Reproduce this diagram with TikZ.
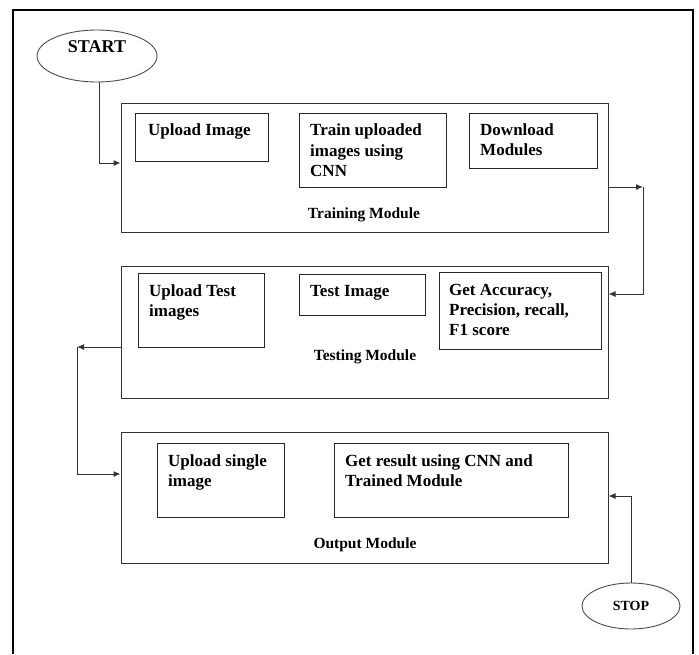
\documentclass[tikz,border=0pt]{standalone}
\usepackage{fontspec}
\setmainfont{Liberation Serif}
\usetikzlibrary{arrows.meta,shapes.geometric,calc}
\begin{document}
\begin{tikzpicture}[x=1pt,y=-1pt,
  modbox/.style={draw=black!80,line width=1pt,rectangle,inner sep=0pt},
  subbox/.style={draw=black!85,line width=1pt,rectangle,inner sep=0pt},
  boxtxt/.style={anchor=north west,inner sep=0pt,align=left,font=\bfseries\fontsize{17}{20.5}\selectfont},
  modlbl/.style={inner sep=0pt,font=\bfseries\fontsize{15.5}{18}\selectfont},
  term/.style={draw=black!70,line width=0.9pt,ellipse,inner sep=0pt},
  conn/.style={draw=black!80,line width=1pt},
  arr/.style={conn,-{Latex[length=7pt,width=6pt]}}]
\useasboundingbox (0,0) rectangle (699,654);
% outer frame
\draw[line width=2.4pt] (13,654) -- (13,10) -- (693,10) -- (693,654);
% start / stop
\node[term,minimum width=120pt,minimum height=52pt,text depth=19pt,font=\bfseries\fontsize{18}{20}\selectfont] (start) at (97,56) {START};
\node[term,minimum width=98pt,minimum height=46pt,font=\bfseries\fontsize{14}{16}\selectfont] (stop) at (631,606) {STOP};
% training module
\node[modbox,minimum width=487pt,minimum height=129pt] (train) at (364.5,167.5) {};
\node[subbox,minimum width=133pt,minimum height=48pt] (upimg) at (201.5,137) {};
\node[subbox,minimum width=147pt,minimum height=74pt] (trcnn) at (372.5,150) {};
\node[subbox,minimum width=128pt,minimum height=55pt] (dlmod) at (533,140.5) {};
\node[boxtxt] (tupimg) at (148,124) {Upload Image};
\node[boxtxt] (ttrcnn) at (310,124) {Train uploaded\\images using\\CNN};
\node[boxtxt] (tdlmod) at (480,123) {Download\\Modules};
\node[modlbl] (ltrain) at (364,215) {Training Module};
% testing module
\node[modbox,minimum width=487pt,minimum height=132pt] (test) at (364.5,332) {};
\node[subbox,minimum width=126pt,minimum height=74pt] (uptest) at (201,310) {};
\node[subbox,minimum width=126pt,minimum height=41pt] (testimg) at (362,294.5) {};
\node[subbox,minimum width=162pt,minimum height=77pt] (acc) at (520,310.5) {};
\node[boxtxt] (tuptest) at (149,284) {Upload Test\\images};
\node[boxtxt] (ttestimg) at (310,285) {Test Image};
\node[boxtxt,font=\bfseries\fontsize{17}{20}\selectfont] (tacc) at (449,284) {Get Accuracy,\\Precision, recall,\\F1 score};
\node[modlbl] (ltest) at (365,357) {Testing Module};
% output module
\node[modbox,minimum width=487pt,minimum height=131pt] (out) at (364.5,497.5) {};
\node[subbox,minimum width=127pt,minimum height=74pt] (upsing) at (220.5,480) {};
\node[subbox,minimum width=234pt,minimum height=74pt] (getres) at (451,480) {};
\node[boxtxt] (tupsing) at (168,454) {Upload single\\image};
\node[boxtxt] (tgetres) at (345,454) {Get result using CNN and\\Trained Module};
\node[modlbl] (lout) at (365,545) {Output Module};
% connectors
\coordinate (rx) at (643,0);
\coordinate (lx) at (77,0);
\draw[arr] (start.-84) |- ([yshift=4.5pt]train.west);
\draw[arr] ([yshift=-19.5pt]train.east) -- ([yshift=-19.5pt]train.east -| rx);
\draw[arr] ([yshift=-19.5pt]train.east -| rx) |- ([yshift=38pt]test.east);
\draw[arr] ([yshift=-15pt]test.west) -- ([yshift=-15pt]test.west -| lx);
\draw[arr] ([yshift=-15pt]test.west -| lx) |- ([yshift=23.5pt]out.west);
\draw[arr] (stop.88) |- ([yshift=1.5pt]out.east);
\end{tikzpicture}
\end{document}
